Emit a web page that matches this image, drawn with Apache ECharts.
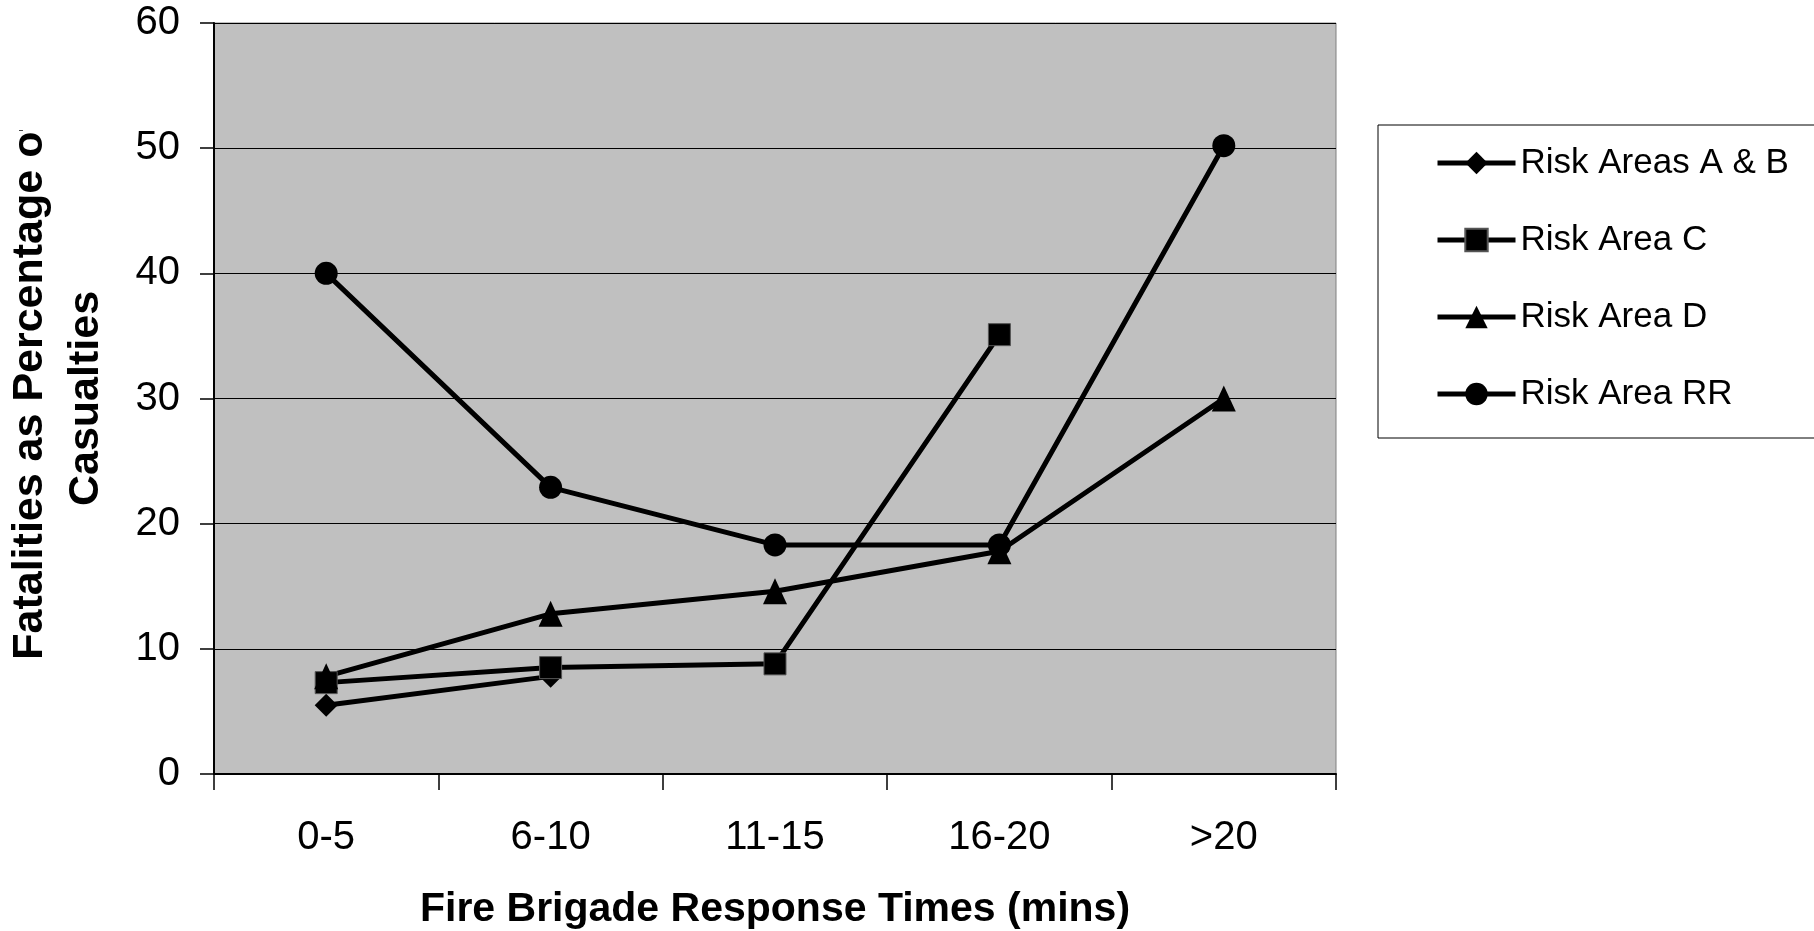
<!DOCTYPE html>
<html>
<head>
<meta charset="utf-8">
<script src="https://cdn.jsdelivr.net/npm/echarts@6/dist/echarts.min.js"></script>
<style>
html,body{margin:0;padding:0;background:#fff;}
#chart{width:1814px;height:931px;}
</style>
</head>
<body>
<div id="chart"></div>
<script>
var categories = ['0-5', '6-10', '11-15', '16-20', '>20'];
var seriesNames = ['Risk Areas A & B', 'Risk Area C', 'Risk Area D', 'Risk Area RR'];
var riskAB = [5.5, 7.8, null, null, null];
var riskC = [7.3, 8.5, 8.8, 35.1, null];
var riskD = [7.8, 12.8, 14.6, 17.8, 30];
var riskRR = [40, 22.9, 18.3, 18.3, 50.2];
var yTicks = [0, 10, 20, 30, 40, 50, 60];
var yTitleLines = ['Fatalities as Percentage of', 'Casualties'];

var FONT = '"Liberation Sans", Arial, sans-serif';
var chart = echarts.init(document.getElementById('chart'));

function mk(name, data, symbol, size, extraItem) {
  return {
    name: name,
    type: 'line',
    data: data,
    symbol: symbol,
    symbolSize: size,
    showSymbol: true,
    animation: false,
    lineStyle: { color: '#000', width: 5 },
    itemStyle: Object.assign({ color: '#000' }, extraItem || {}),
    emphasis: { disabled: true }
  };
}

var titleStyle = { fontSize: 43, fontWeight: 'bold', color: '#000', fontFamily: FONT, lineHeight: 56 };

chart.setOption({
  backgroundColor: '#fff',
  animation: false,
  textStyle: { fontFamily: FONT, color: '#000' },
  grid: {
    left: 214, right: 478, top: 23, bottom: 157,
    containLabel: false,
    outerBoundsMode: 'none',
    show: true, backgroundColor: '#c0c0c0', borderColor: '#808080', borderWidth: 1
  },
  legend: {
    orient: 'vertical',
    left: 1378, top: 125,
    padding: [18, 300, 24, 57],
    itemWidth: 78, itemHeight: 28,
    itemGap: 37,
    backgroundColor: '#fff',
    borderColor: '#000', borderWidth: 1,
    lineStyle: { color: '#000', width: 5 },
    textStyle: { fontFamily: FONT, fontSize: 35, color: '#000', lineHeight: 40 },
    data: seriesNames
  },
  xAxis: {
    type: 'category',
    data: categories,
    boundaryGap: true,
    axisLine: { lineStyle: { color: '#000', width: 2 } },
    axisTick: { show: true, interval: 0, length: 16, lineStyle: { color: '#000', width: 1.5 } },
    axisLabel: { fontSize: 40, color: '#000', fontFamily: FONT, margin: 44, interval: 0 },
    name: 'Fire Brigade Response Times (mins)',
    nameLocation: 'middle',
    nameGap: 115,
    nameTextStyle: { fontSize: 41, fontWeight: 'bold', color: '#000', fontFamily: FONT }
  },
  yAxis: {
    type: 'value',
    min: yTicks[0], max: yTicks[yTicks.length - 1], interval: 10,
    axisLine: { show: true, lineStyle: { color: '#000', width: 2 } },
    axisTick: { show: true, length: 14, lineStyle: { color: '#000', width: 1.5 } },
    axisLabel: { fontSize: 40, color: '#000', fontFamily: FONT, margin: 34 },
    splitLine: { show: true, lineStyle: { color: '#000', width: 1.2 } },
    name: '{a|' + yTitleLines[0] + '}\n{b|' + yTitleLines[1] + '}',
    nameLocation: 'middle',
    nameGap: 100,
    nameTextStyle: Object.assign({}, titleStyle, {
      rich: {
        a: Object.assign({}, titleStyle, { padding: [0, 0, 0, 20] }),
        b: Object.assign({}, titleStyle)
      }
    })
  },
  graphic: [
    { type: 'rect', z: 100, shape: { x: 0, y: 0, width: 110, height: 130 }, style: { fill: '#fff' }, silent: true }
  ],
  series: [
    mk(seriesNames[0], riskAB, 'diamond', 23),
    mk(seriesNames[1], riskC, 'rect', 22, { borderColor: '#555', borderWidth: 1 }),
    mk(seriesNames[2], riskD, 'triangle', [24, 26]),
    mk(seriesNames[3], riskRR, 'circle', 23)
  ]
});
</script>
</body>
</html>
